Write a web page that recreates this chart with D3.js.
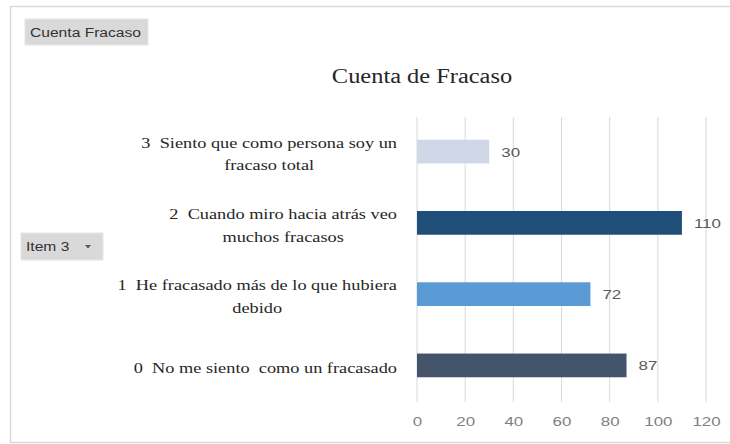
<!DOCTYPE html>
<html>
<head>
<meta charset="utf-8">
<script src="https://cdn.jsdelivr.net/npm/d3@7"></script>
<style>
  html, body { margin: 0; padding: 0; background: #fff; }
  svg { display: block; }
  text { white-space: pre; }
</style>
</head>
<body>
<svg id="chart" width="730" height="444"></svg>
<script>
// Categories, top to bottom, with each label split into its wrapped lines
const categories = [
  "3  Siento que como persona soy un fracaso total",
  "2  Cuando miro hacia atrás veo muchos fracasos",
  "1  He fracasado más de lo que hubiera debido",
  "0  No me siento  como un fracasado"
];
const labelLines = [
  ["3  Siento que como persona soy un", "fracaso total"],
  ["2  Cuando miro hacia atrás veo", "muchos fracasos"],
  ["1  He fracasado más de lo que hubiera", "debido"],
  ["0  No me siento  como un fracasado"]
];
const counts = [30, 110, 72, 87];
const barColors = ["#d0d8e8", "#1f4e79", "#5b9bd5", "#44546a"];
const tickValues = [0, 20, 40, 60, 80, 100, 120];
const chartTitle = "Cuenta de Fracaso";
const fieldButton = "Cuenta Fracaso";
const axisButton = "Item 3";

const svg = d3.select("#chart");
const serif = "'Liberation Serif', 'Times New Roman', serif";
const sans = "'Liberation Sans', Arial, sans-serif";
const serifStretch = 1.22; // wide letterforms of the sheet's typefaces
const sansStretch = 1.3;

// widen a text node (or tspan) horizontally, keeping its anchor
function widen(sel, k) {
  sel.each(function () {
    const w = this.getComputedTextLength();
    d3.select(this).attr("textLength", w * k).attr("lengthAdjust", "spacingAndGlyphs");
  });
  return sel;
}

// outer frame
svg.append("rect").attr("x", 10.5).attr("y", 6.5).attr("width", 740).attr("height", 436)
  .attr("fill", "#fff").attr("stroke", "#d9d9d9").attr("stroke-width", 1.5);

// pivot field buttons
function button(x, y, w, h, text, arrow) {
  const g = svg.append("g");
  g.append("rect").attr("x", x).attr("y", y).attr("width", w).attr("height", h)
    .attr("fill", "#d9d9d9").attr("stroke", "#e6e6e6");
  widen(g.append("text").attr("x", x + 5).attr("y", y + h / 2 + 4.5)
    .attr("font-family", sans).attr("font-size", 12).attr("fill", "#333")
    .text(text), sansStretch);
  if (arrow) {
    const ax = x + w - 15, ay = y + h / 2;
    g.append("path").attr("d", `M${ax - 3},${ay - 1.5} L${ax + 3},${ay - 1.5} L${ax},${ay + 2} Z`)
      .attr("fill", "#555");
  }
}
button(25, 19, 123, 26, fieldButton, false);
button(21, 233, 82, 27, axisButton, true);

// scales
const x = d3.scaleLinear().domain([0, 120]).range([417, 706]);
const y = d3.scaleBand().domain(categories).range([116, 401]).paddingInner(0.667).paddingOuter(0.333);

// title
widen(svg.append("text").attr("x", 422).attr("y", 83).attr("text-anchor", "middle")
  .attr("font-family", serif).attr("font-size", 20).attr("fill", "#262626")
  .text(chartTitle), serifStretch);

// vertical gridlines
svg.append("g").selectAll("line").data(tickValues).join("line")
  .attr("x1", d => x(d)).attr("x2", d => x(d))
  .attr("y1", 117).attr("y2", 402)
  .attr("stroke", "#d9d9d9").attr("stroke-width", 1);

// x axis labels
const xAxis = d3.axisBottom(x).tickValues(tickValues).tickSize(0).tickPadding(0);
const gx = svg.append("g").attr("transform", "translate(0,417)").call(xAxis);
gx.select(".domain").remove();
gx.selectAll("text").attr("font-family", sans).attr("font-size", 13).attr("fill", "#7f7f7f");
widen(gx.selectAll("text"), sansStretch);

// bars
svg.append("g").selectAll("rect").data(counts).join("rect")
  .attr("x", x(0))
  .attr("y", (d, i) => y(categories[i]))
  .attr("width", d => x(d) - x(0))
  .attr("height", y.bandwidth())
  .attr("fill", (d, i) => barColors[i]);

// value labels
widen(svg.append("g").selectAll("text").data(counts).join("text")
  .attr("x", d => x(d) + 12)
  .attr("y", (d, i) => y(categories[i]) + y.bandwidth() / 2 + 5)
  .attr("font-family", sans).attr("font-size", 13).attr("fill", "#595959")
  .text(d => d), sansStretch);

// category labels: centred block, right edge just left of the plot
const labelG = svg.append("g");
const labelRight = 397;
labelLines.forEach((lines, i) => {
  const cy = y(categories[i]) + y.bandwidth() / 2 + 3;
  const lh = 22.5;
  const t = labelG.append("text")
    .attr("font-family", serif).attr("font-size", 15).attr("fill", "#262626");
  lines.forEach((ln, j) => {
    t.append("tspan").attr("y", cy + (j - (lines.length - 1) / 2) * lh + 4.5).text(ln);
  });
  const spans = t.selectAll("tspan");
  const maxW = d3.max(spans.nodes(), s => s.getComputedTextLength()) * serifStretch;
  spans.attr("text-anchor", "middle").attr("x", labelRight - maxW / 2);
  widen(spans, serifStretch);
});
</script>
</body>
</html>
